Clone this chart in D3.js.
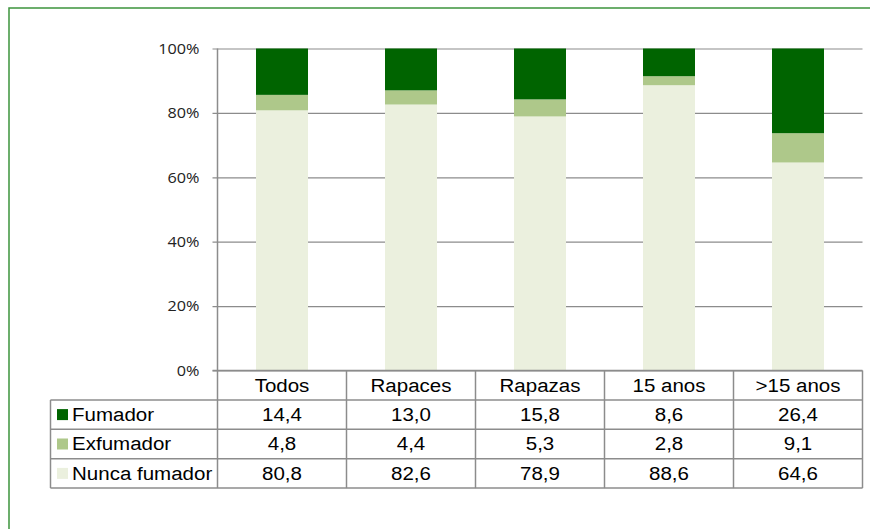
<!DOCTYPE html>
<html>
<head>
<meta charset="utf-8">
<script src="https://cdn.jsdelivr.net/npm/d3@7"></script>
<style>
  html, body { margin: 0; padding: 0; background: #fff; }
  svg { display: block; }
</style>
</head>
<body>
<svg id="chart" width="870" height="529"></svg>
<script>
// Smoking status by group (%)
const categories = ["Todos", "Rapaces", "Rapazas", "15 anos", ">15 anos"];
const seriesNames = ["Fumador", "Exfumador", "Nunca fumador"];
const fumador = [14.4, 13.0, 15.8, 8.6, 26.4];
const exfumador = [4.8, 4.4, 5.3, 2.8, 9.1];
const nuncaFumador = [80.8, 82.6, 78.9, 88.6, 64.6];
const yTicks = [0, 20, 40, 60, 80, 100];

const colors = {
  "Fumador": "#006400",
  "Exfumador": "#aec88a",
  "Nunca fumador": "#ebf0de"
};
const seriesValues = {
  "Fumador": fumador,
  "Exfumador": exfumador,
  "Nunca fumador": nuncaFumador
};

const svg = d3.select("#chart");
const stretch = 1.08; // slightly wide lettering

// outer frame
svg.append("rect")
  .attr("x", 9).attr("y", 8)
  .attr("width", 900).attr("height", 600)
  .attr("fill", "none")
  .attr("stroke", "#3d943d")
  .attr("stroke-width", 1.5);

const plotLeft = 217.5, plotRight = 862.5, plotTop = 48.5, plotBottom = 370.5;
const rowH = 29.4;
const legendLeft = 50.5;

const x = d3.scaleBand().domain(categories).range([plotLeft, plotRight]).paddingInner(0).paddingOuter(0);
const y = d3.scaleLinear().domain([0, 100]).range([plotBottom, plotTop]).clamp(true);

// gridlines + ticks
const yAxis = d3.axisLeft(y).tickValues(yTicks).tickSize(-(plotRight - plotLeft)).tickSizeOuter(0)
  .tickFormat(d => d + "%");
const gy = svg.append("g").attr("transform", `translate(${plotLeft},0)`).call(yAxis);
gy.select(".domain").remove();
gy.selectAll(".tick line").attr("stroke", "#8c8c8c").attr("stroke-width", 1.2).attr("x1", -5);
gy.selectAll(".tick text")
  .attr("x", 0)
  .attr("transform", `translate(-18,0) scale(${stretch},1)`)
  .attr("font-family", "'Open Sans', sans-serif")
  .attr("font-size", 15)
  .attr("fill", "#222");

// stacked bars (bottom: Nunca fumador)
const rows = categories.map((c, i) => {
  const r = { cat: c };
  seriesNames.forEach(s => r[s] = seriesValues[s][i]);
  return r;
});
const stack = d3.stack().keys(["Nunca fumador", "Exfumador", "Fumador"]);
const stacked = stack(rows);
const barW = 52;

svg.append("g").selectAll("g").data(stacked).join("g")
  .attr("fill", d => colors[d.key])
  .selectAll("rect").data(d => d).join("rect")
  .attr("x", d => x(d.data.cat) + x.bandwidth() / 2 - barW / 2)
  .attr("width", barW)
  .attr("y", d => y(d[1]))
  .attr("height", d => y(d[0]) - y(d[1]));

// data table below the axis
const tableBottom = plotBottom + rowH * (seriesNames.length + 1);
const tbl = svg.append("g");
const lineColor = "#8c8c8c";
const fontTable = "'Liberation Sans', Arial, sans-serif";

// horizontal lines
tbl.append("line").attr("x1", plotLeft - 5).attr("x2", plotRight).attr("y1", plotBottom).attr("y2", plotBottom)
  .attr("stroke", lineColor).attr("stroke-width", 1.5);
for (let r = 1; r <= seriesNames.length + 1; r++) {
  tbl.append("line").attr("x1", legendLeft).attr("x2", plotRight)
    .attr("y1", plotBottom + rowH * r).attr("y2", plotBottom + rowH * r)
    .attr("stroke", lineColor).attr("stroke-width", 1.5);
}
// vertical lines
tbl.append("line").attr("x1", plotLeft).attr("x2", plotLeft).attr("y1", plotTop).attr("y2", tableBottom)
  .attr("stroke", lineColor).attr("stroke-width", 1.5);
categories.forEach(c => {
  const xr = x(c) + x.bandwidth();
  tbl.append("line").attr("x1", xr).attr("x2", xr).attr("y1", plotBottom).attr("y2", tableBottom)
    .attr("stroke", lineColor).attr("stroke-width", 1.5);
});
tbl.append("line").attr("x1", legendLeft).attr("x2", legendLeft)
  .attr("y1", plotBottom + rowH).attr("y2", tableBottom)
  .attr("stroke", lineColor).attr("stroke-width", 1.5);

function cellText(sel, anchor) {
  return sel.attr("x", 0).attr("y", 0).attr("dy", "0.34em")
    .attr("text-anchor", anchor)
    .attr("font-family", fontTable)
    .attr("font-size", 19)
    .attr("fill", "#000");
}

// header row: categories
cellText(tbl.selectAll(".cat").data(categories).join("text"), "middle")
  .attr("transform", d => `translate(${x(d) + x.bandwidth() / 2},${plotBottom + rowH / 2}) scale(${stretch},1)`)
  .text(d => d);

const fmt = v => d3.format(".1f")(v).replace(".", ",");

seriesNames.forEach((s, ri) => {
  const cy = plotBottom + rowH * (ri + 1) + rowH / 2;
  tbl.append("rect")
    .attr("x", 57).attr("y", cy - 5.5).attr("width", 11).attr("height", 11)
    .attr("fill", colors[s]);
  cellText(tbl.append("text"), "start")
    .attr("transform", `translate(72,${cy}) scale(${stretch},1)`)
    .text(s);
  cellText(tbl.selectAll(null).data(seriesValues[s]).join("text"), "middle")
    .attr("transform", (d, i) => `translate(${x(categories[i]) + x.bandwidth() / 2},${cy}) scale(${stretch},1)`)
    .text(d => fmt(d));
});
</script>
</body>
</html>
